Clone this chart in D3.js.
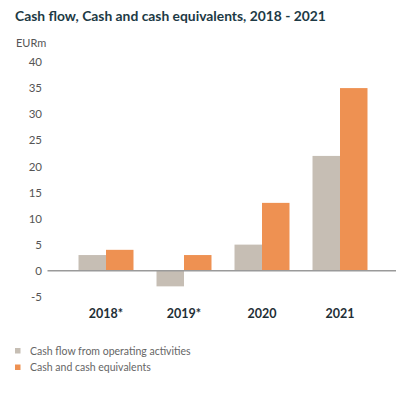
<!DOCTYPE html>
<html>
<head>
<meta charset="utf-8">
<script src="https://cdnjs.cloudflare.com/ajax/libs/d3/7.8.5/d3.min.js"></script>
<style>
  body { margin: 0; background: #fff; }
  text { font-family: Lato, "Open Sans", sans-serif; }
</style>
</head>
<body>
<script>
// chart data
const years = ["2018*", "2019*", "2020", "2021"]
const cashFlow = [3, -3, 5, 22]
const cashEquiv = [4, 3, 13, 35]
const seriesNames = ["Cash flow from operating activities", "Cash and cash equivalents"]
const yTicks = [-5, 0, 5, 10, 15, 20, 25, 30, 35, 40]

const colors = ["#c6beb4", "#ee9152"]

let svg = d3.select("body")
    .append("svg")
    .attr("width", 419)
    .attr("height", 398)

let x = d3.scaleBand()
    .domain(years)
    .range([67, 379])
    .paddingInner(0.295)
    .paddingOuter(0.1475)

let y = d3.scaleLinear()
    .domain([0, 40])
    .range([270.7, 62])

// title
let title = svg.append("text")
    .attr("x", 15)
    .attr("y", 21)
    .attr("font-size", 14)
    .attr("font-weight", "bold")
    .attr("fill", "#1d3a45")
    .text("Cash flow, Cash and cash equivalents, 2018 - 2021")
// stretch to the width seen in the picture
let tw = title.node().getComputedTextLength()
title.attr("font-size", 14 * 311 / tw)

svg.append("text")
    .attr("x", 16)
    .attr("y", 46.5)
    .attr("font-size", 11)
    .attr("fill", "#555")
    .text("EURm")

// y axis labels, no line
let yAxis = d3.axisLeft(y)
    .tickValues(yTicks)
    .tickFormat(d => String(d))
    .tickSize(0)
    .tickPadding(0)
let gy = svg.append("g")
    .attr("transform", "translate(42,0)")
    .call(yAxis)
gy.select(".domain").remove()
gy.selectAll("text")
    .attr("font-size", 11.5)
    .attr("fill", "#555")
    .style("font-family", "Lato, sans-serif")

let sub = d3.scaleBand()
    .domain([0, 1])
    .range([0, x.bandwidth()])

let rows = years.map((yr, i) => ({ year: yr, values: [cashFlow[i], cashEquiv[i]] }))

let groups = svg.selectAll("g.grp")
    .data(rows)
    .enter()
    .append("g")
    .attr("class", "grp")
    .attr("transform", d => "translate(" + x(d.year) + ",0)")

groups.selectAll("rect")
    .data(d => d.values)
    .enter()
    .append("rect")
    .attr("x", (d, i) => sub(i))
    .attr("width", sub.bandwidth())
    .attr("y", d => y(Math.max(0, d)))
    .attr("height", d => Math.abs(y(d) - y(0)))
    .attr("fill", (d, i) => colors[i])

// zero line
svg.append("line")
    .attr("x1", 47.5)
    .attr("x2", 396)
    .attr("y1", y(0))
    .attr("y2", y(0))
    .attr("stroke", "#9a9a9a")
    .attr("stroke-width", 1.5)

// category labels
let xAxis = d3.axisBottom(x).tickSize(0).tickPadding(0)
let gx = svg.append("g")
    .attr("transform", "translate(0,309)")
    .call(xAxis)
gx.select(".domain").remove()
gx.selectAll("text")
    .attr("font-size", 12.5)
    .attr("font-weight", "bold")
    .attr("fill", "#1f2f36")
    .attr("dy", "0.75em")
    .style("font-family", "Lato, sans-serif")

// legend
let legend = svg.selectAll("g.leg")
    .data(seriesNames)
    .enter()
    .append("g")
    .attr("class", "leg")
    .attr("transform", (d, i) => "translate(15," + (348 + i * 16.5) + ")")

legend.append("rect")
    .attr("width", 5.5)
    .attr("height", 5.5)
    .attr("fill", (d, i) => colors[i])

legend.append("text")
    .attr("x", 15)
    .attr("y", 6.5)
    .attr("font-size", 10.5)
    .attr("fill", "#666")
    .text(d => d)
</script>
</body>
</html>
